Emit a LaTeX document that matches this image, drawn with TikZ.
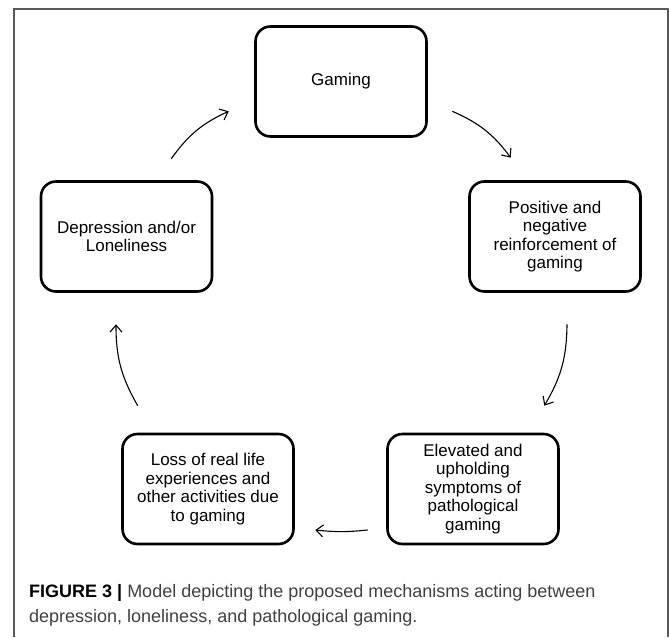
\documentclass[tikz,border=0pt]{standalone}
\usepackage{fontspec}
\setmainfont{Liberation Sans}
\usetikzlibrary{arrows.meta}
\tikzset{
	box/.style={draw=black, line width=2.6pt, rounded corners=15pt, minimum width=171pt, minimum height=110pt, align=center, font=\fontsize{17}{18.5}\selectfont},
	link/.style={line width=1.1pt, -{Straight Barb[length=7pt,width=12pt]}, bend left=15}
}
\begin{document}
\begin{tikzpicture}[x=1pt,y=1pt]
		\useasboundingbox (0,0) rectangle (669,637);
		\draw[black!65, line width=1.5pt] (14,0) -- (14,628) -- (668,628) -- (668,0);
		\node[box] (gam) at (341,555.5) {Gaming};
		\node[box] (dep) at (126.5,400.5) {Depression and/or\\Loneliness};
		\node[box] (pos) at (555,400.5) {Positive and\\negative\\reinforcement of\\gaming};
		\node[box] (ele) at (473,148) {Elevated and\\upholding\\symptoms of\\pathological\\gaming};
		\node[box] (los) at (208,148) {Loss of real life\\experiences and\\other activities due\\to gaming};
		\draw[link] ([shift={(-42,21.5)}]dep.north east) to ([shift={(-25.5,26.5)}]gam.south west);
		\draw[link] ([shift={(24.5,26.5)}]gam.south east) to ([shift={(42.5,22.5)}]pos.north west);
		\draw[link] ([shift={(12,-31.5)}]pos.south) to ([shift={(-15.5,27)}]ele.north east);
		\draw[link, bend left=6] ([shift={(-18.5,-41)}]ele.west) to ([shift={(20.5,-41)}]los.east);
		\draw[link] ([shift={(16.5,27)}]los.north west) to ([shift={(-10.5,-31.5)}]dep.south);
		\node[anchor=base west, align=left, inner sep=0pt, text=black!75, font=\fontsize{18}{25}\selectfont] (cap) at (29,15) {\textcolor{black}{\textbf{FIGURE 3 |}} Model depicting the proposed mechanisms acting between\\depression, loneliness, and pathological gaming.};
	\end{tikzpicture}
\end{document}
